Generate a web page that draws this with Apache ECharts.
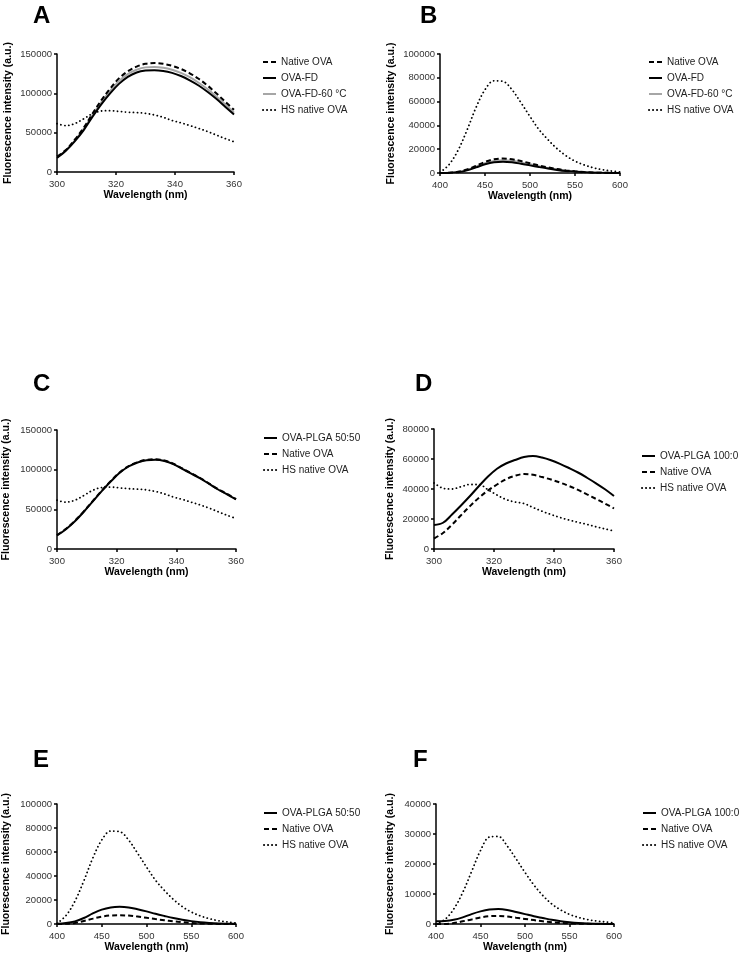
<!DOCTYPE html>
<html><head><meta charset="utf-8">
<script src="https://cdn.jsdelivr.net/npm/echarts/dist/echarts.min.js"></script>
<style>html,body{margin:0;padding:0;background:#fff}#c{width:740px;height:954px}</style>
</head><body><div id="c"></div>
<script>
// Excitation spectra wavelengths (nm)
const exX = [300,303,306,309,312,315,318,321,324,327,330,333,336,339,342,345,348,351,354,357,360];
// Emission spectra wavelengths (nm)
const emX = [400,410,420,430,440,450,460,470,480,490,500,510,520,530,540,550,560,570,580,590,600];

// Panel A
const aNative = [19500,28000,41000,56000,74000,91000,106000,119000,128000,134000,137500,138500,137500,135000,131000,125500,118500,110000,100000,89500,79000];
const aFD     = [18000,27000,39000,53000,70000,86000,100000,112000,121000,126500,129000,129500,128500,126000,122000,116500,110000,102000,93000,83000,73000];
const aFD60   = [18500,27500,40000,54500,72000,88500,103000,115500,124500,130000,133000,133500,132500,130000,126000,120500,113500,105500,96000,86000,75500];
const hsEx    = [61500,59000,61500,67500,74000,77500,78000,77000,76000,75500,74500,72500,69500,65500,62500,59000,55500,51500,47000,42500,38500];

// Panel B
const bNative = [0,200,1000,3000,6000,9300,11500,12200,11500,10000,8200,6300,4700,3300,2200,1400,800,400,200,100,0];
const bFD     = [0,100,600,2200,4700,7300,9000,9500,9000,7800,6400,5000,3700,2600,1700,1100,600,300,150,50,0];
const bFD60   = [0,150,800,2600,5300,8300,10200,10800,10200,8900,7300,5600,4200,2900,1900,1200,700,350,170,70,0];
const hsEm    = [500,7000,19000,36000,55000,70000,77500,77000,70000,59000,47500,36500,28000,20500,14500,10000,6800,4500,2800,1700,800];

// Panel C
const cPLGA   = [17000,25000,35000,47000,60000,73000,85000,96000,104000,109000,112000,112500,111000,107000,101000,95000,89000,82000,75000,69000,62500];
const cNative = [17500,25500,35500,47500,60500,73500,85500,96500,104500,109500,112500,113000,111500,107500,101500,95500,89500,82500,75500,69500,63000];

// Panel D
const dPLGA   = [16000,17500,23000,29000,35300,42000,48300,53500,57000,59300,61300,62000,61000,59200,56800,54000,51000,47500,43800,39800,35300];
const dNative = [7000,10700,16200,22500,28600,34200,39000,43000,46500,48800,50000,49500,48000,46300,44300,42000,39400,36400,33400,30300,27000];
const dHS     = [44000,40500,40000,41500,43000,43000,39500,36000,33000,31300,30300,27700,25200,23000,21000,19300,17800,16400,14800,13400,12000];

// Panel E
const ePLGA   = [200,800,2200,5000,8800,12000,13800,14300,13800,12300,10500,8500,6700,5000,3600,2400,1500,900,500,300,200];
const eNative = [0,200,900,2500,4500,6200,7100,7300,7000,6200,5200,4100,3100,2200,1500,900,500,250,100,50,0];

// Panel F
const fPLGA   = [900,1000,1400,2200,3300,4200,4800,5000,4700,4000,3300,2600,2000,1400,900,550,300,150,80,30,0];
const fNative = [0,0,300,900,1500,2200,2600,2700,2500,2100,1700,1300,900,600,350,200,100,50,0,0,0];
const fHS     = [0,1500,5000,10500,17500,24500,29000,29200,26000,21700,17200,13000,9500,6700,4700,3200,2200,1500,1000,700,400];

const FONT = "'Liberation Sans', Arial, Helvetica, sans-serif";
const STY = {
  dash:  {color:'#000', width:2, type:[5,3]},
  solid: {color:'#000', width:2, type:'solid'},
  gray:  {color:'#a6a6a6', width:2, type:'solid'},
  dot:   {color:'#000', width:1.8, type:[0.1,3.9], cap:'round'}
};

const panels = [
  {letter:'A', lx:33, ly:4, grid:{left:57,top:54,width:177,height:118}, xr:[300,360,20], yr:[0,150000,50000], yGap:43,
   legend:{left:262,top:56}, xs:exX,
   series:[['HS native OVA',hsEx,'dot'],['OVA-FD-60 °C',aFD60,'gray'],['OVA-FD',aFD,'solid'],['Native OVA',aNative,'dash']],
   order:['Native OVA','OVA-FD','OVA-FD-60 °C','HS native OVA']},
  {letter:'B', lx:420, ly:4, grid:{left:440,top:54,width:180,height:119}, xr:[400,600,50], yr:[0,100000,20000], yGap:43,
   legend:{left:648,top:56}, xs:emX,
   series:[['HS native OVA',hsEm,'dot'],['OVA-FD-60 °C',bFD60,'gray'],['OVA-FD',bFD,'solid'],['Native OVA',bNative,'dash']],
   order:['Native OVA','OVA-FD','OVA-FD-60 °C','HS native OVA']},
  {letter:'C', lx:33, ly:372, grid:{left:57,top:430,width:179,height:119}, xr:[300,360,20], yr:[0,150000,50000], yGap:45,
   legend:{left:263,top:432}, xs:exX,
   series:[['HS native OVA',hsEx,'dot'],['Native OVA',cNative,'dash'],['OVA-PLGA 50:50',cPLGA,'solid']],
   order:['OVA-PLGA 50:50','Native OVA','HS native OVA']},
  {letter:'D', lx:415, ly:372, grid:{left:434,top:429,width:180,height:120}, xr:[300,360,20], yr:[0,80000,20000], yGap:38,
   legend:{left:641,top:450}, xs:exX,
   series:[['HS native OVA',dHS,'dot'],['Native OVA',dNative,'dash'],['OVA-PLGA 100:0',dPLGA,'solid']],
   order:['OVA-PLGA 100:0','Native OVA','HS native OVA']},
  {letter:'E', lx:33, ly:748, grid:{left:57,top:804,width:179,height:120}, xr:[400,600,50], yr:[0,100000,20000], yGap:45,
   legend:{left:263,top:807}, xs:emX,
   series:[['HS native OVA',hsEm,'dot'],['Native OVA',eNative,'dash'],['OVA-PLGA 50:50',ePLGA,'solid']],
   order:['OVA-PLGA 50:50','Native OVA','HS native OVA']},
  {letter:'F', lx:413, ly:748, grid:{left:436,top:804,width:178,height:120}, xr:[400,600,50], yr:[0,40000,10000], yGap:40,
   legend:{left:642,top:807}, xs:emX,
   series:[['HS native OVA',fHS,'dot'],['Native OVA',fNative,'dash'],['OVA-PLGA 100:0',fPLGA,'solid']],
   order:['OVA-PLGA 100:0','Native OVA','HS native OVA']}
];

const axisCommon = {
  axisLine:{show:true, onZero:false, lineStyle:{color:'#000', width:1.5}},
  axisTick:{show:true, inside:false, length:3, lineStyle:{color:'#000', width:1.5}},
  splitLine:{show:false},
  nameTextStyle:{fontFamily:FONT, fontSize:10.5, fontWeight:'bold', color:'#000'}
};
const plain = v => String(v);

const option = {animation:false, backgroundColor:'#fff', color:['#000'], title:[], grid:[], xAxis:[], yAxis:[], legend:[], series:[]};
panels.forEach((p,i)=>{
  option.title.push({text:p.letter, left:p.lx, top:p.ly, padding:0,
    textStyle:{fontFamily:FONT, fontSize:24, fontWeight:'bold', color:'#000'}});
  option.grid.push(Object.assign({containLabel:false}, p.grid));
  option.xAxis.push(Object.assign({}, axisCommon, {type:'value', gridIndex:i, min:p.xr[0], max:p.xr[1], interval:p.xr[2],
    name:'Wavelength (nm)', nameLocation:'middle', nameGap:17,
    axisLabel:{fontFamily:FONT, fontSize:9.5, color:'#333', margin:7, formatter:plain}}));
  option.yAxis.push(Object.assign({}, axisCommon, {type:'value', gridIndex:i, min:p.yr[0], max:p.yr[1], interval:p.yr[2],
    name:'Fluorescence intensity (a.u.)', nameLocation:'middle', nameGap:p.yGap, nameRotate:90,
    axisLabel:{fontFamily:FONT, fontSize:9.5, color:'#333', margin:5, formatter:plain}}));
  option.legend.push({orient:'vertical', left:p.legend.left, top:p.legend.top, padding:0, itemGap:4,
    itemWidth:13, itemHeight:10, selectedMode:false, data:p.order, itemStyle:{opacity:0},
    textStyle:{fontFamily:FONT, fontSize:10, color:'#222', lineHeight:12}});
  p.series.forEach(s=>{
    option.series.push({type:'line', name:s[0], xAxisIndex:i, yAxisIndex:i, symbol:'none', smooth:0.35,
      itemStyle:{color:STY[s[2]].color}, lineStyle:STY[s[2]], data:p.xs.map((x,k)=>[x, s[1][k]])});
  });
});

const chart = echarts.init(document.getElementById('c'), null, {renderer:'canvas'});
chart.setOption(option);
</script></body></html>
